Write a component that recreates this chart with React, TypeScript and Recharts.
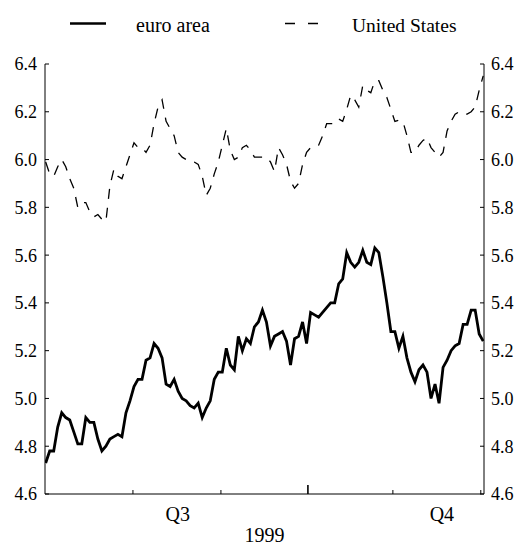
import { LineChart, Line, XAxis, YAxis, Label } from "recharts";

const FONT = "Liberation Serif, DejaVu Serif, serif";

// daily yields, July - early December 1999 (business days)
const euroArea = [
  4.73, 4.78, 4.78, 4.88, 4.94, 4.92, 4.91, 4.86, 4.81, 4.81,
  4.92, 4.9, 4.9, 4.83, 4.78, 4.8, 4.83, 4.84, 4.85, 4.84,
  4.94, 4.99, 5.05, 5.08, 5.08, 5.16, 5.17, 5.23,
  5.21, 5.17, 5.06, 5.05, 5.08, 5.03, 5.0, 4.99, 4.97, 4.96,
  4.98, 4.92, 4.96, 4.99, 5.08, 5.11, 5.11, 5.21, 5.14, 5.12,
  5.26, 5.2, 5.25, 5.23, 5.3, 5.32, 5.37,
  5.32, 5.22, 5.26, 5.27, 5.28, 5.24, 5.14, 5.25, 5.26, 5.32,
  5.23, 5.36, 5.35, 5.34, 5.36, 5.38, 5.4, 5.4, 5.48, 5.5,
  5.61, 5.57, 5.55, 5.57, 5.62, 5.57, 5.56,
  5.63, 5.61, 5.51, 5.4, 5.28, 5.28, 5.21, 5.26, 5.17, 5.11,
  5.07, 5.12, 5.14, 5.11, 5.0, 5.06, 4.98, 5.13, 5.16, 5.2,
  5.22, 5.23, 5.31, 5.31, 5.37, 5.37, 5.27, 5.24,
];

const unitedStates = [
  5.99, 5.94, 5.93, 5.97, 6.0, 5.97, 5.92, 5.88, 5.8, 5.82,
  5.82, 5.78, 5.76, 5.77, 5.75, 5.74, 5.89, 5.96, 5.93, 5.92,
  5.97, 6.02, 6.07, 6.05, 6.05, 6.03, 6.06, 6.15, 6.22, 6.25,
  6.16, 6.13, 6.1, 6.03, 6.01, 6.0, 6.0, 5.99, 5.98, 5.93,
  5.85, 5.88, 5.94, 5.99, 6.06, 6.13, 6.04, 6.0, 6.01, 6.05,
  6.06, 6.04, 6.01, 6.01, 6.01, 6.01, 5.99, 5.95, 6.05, 6.02,
  5.98, 5.91, 5.88, 5.9, 5.98, 6.03, 6.05, 6.06, 6.06, 6.1,
  6.15, 6.15, 6.15, 6.17, 6.16, 6.21, 6.27, 6.25, 6.22, 6.31,
  6.29, 6.28, 6.33, 6.33, 6.29, 6.26, 6.21, 6.16, 6.165, 6.16,
  6.1, 6.03, 6.03, 6.06, 6.08, 6.09, 6.05, 6.03, 6.01, 6.03,
  6.12, 6.16, 6.19, 6.2, 6.19, 6.19, 6.2, 6.22, 6.29, 6.35,
];

// x positions in business-day index
const monthTicks = [21.74, 43.66, 86.5, 108.4];
const quarterStarts = [65.33];
const quarterMids = [32.9, 98.7];
const quarterLabels = ["Q3", "Q4"];
const yTicks = [4.6, 4.8, 5.0, 5.2, 5.4, 5.6, 5.8, 6.0, 6.2, 6.4];
const yearLabel = "1999";

const data = euroArea.map((v, i) => ({ day: i, euro: v, us: unitedStates[i] }));

function XTick(props: any) {
  const { x, y, payload } = props;
  const q = quarterMids.indexOf(payload.value);
  if (q >= 0) {
    return (
      <text x={x} y={y + 27} textAnchor="middle" fontSize={20} style={{ fontFamily: FONT }} fill="#000">
        {quarterLabels[q]}
      </text>
    );
  }
  const big = quarterStarts.includes(payload.value);
  return <line x1={x} x2={x} y1={y} y2={y - (big ? 9 : 4)} stroke="#000" strokeWidth={big ? 1.6 : 1} />;
}

function LegendBar() {
  return (
    <svg width={507} height={40} style={{ position: "absolute", left: 0, top: 0, fontFamily: FONT }}>
      <line x1={62} x2={98} y1={15.5} y2={15.5} stroke="#000" strokeWidth={2.6} />
      <text x={128} y={23.5} fontSize={20} style={{ fontFamily: FONT }} fill="#000">euro area</text>
      <line x1={277} x2={312} y1={15.5} y2={15.5} stroke="#000" strokeWidth={1.3} strokeDasharray="10 13" />
      <text x={344} y={23.5} fontSize={19.5} style={{ fontFamily: FONT }} fill="#000">United States</text>
    </svg>
  );
}

export default function App() {
  const tickStyle = { fontSize: 18, style: { fontFamily: FONT }, fill: "#000" };
  return (
    <div style={{ position: "relative", width: 507, height: 537, fontFamily: FONT }}>
      <LineChart width={507} height={537} data={data} margin={{ top: 56, right: 0, bottom: 0, left: 0 }} style={{ fontFamily: FONT }}>
        <XAxis
          dataKey="day"
          type="number"
          domain={[-0.17, 109.2]}
          ticks={[...monthTicks, ...quarterStarts, ...quarterMids]}
          tick={<XTick />}
          tickLine={false}
          tickSize={0}
          tickMargin={0}
          interval={0}
          height={51}
          stroke="#000"
          allowDataOverflow
        >
          <Label value={yearLabel} position="insideBottom" offset={3} style={{ fontSize: 20, fontFamily: FONT, fill: "#000" }} />
        </XAxis>
        <YAxis
          yAxisId="l"
          orientation="left"
          width={37}
          domain={[4.6, 6.4]}
          ticks={yTicks}
          interval={0}
          tickSize={-4}
          tickMargin={12}
          tick={tickStyle}
          tickFormatter={(v: number) => v.toFixed(1)}
          stroke="#000"
        />
        <YAxis
          yAxisId="r"
          orientation="right"
          width={31}
          domain={[4.6, 6.4]}
          ticks={yTicks}
          interval={0}
          tickSize={-4}
          tickMargin={11}
          tick={tickStyle}
          tickFormatter={(v: number) => v.toFixed(1)}
          stroke="#000"
        />
        <Line yAxisId="l" dataKey="us" stroke="#000" strokeWidth={1.3} strokeDasharray="10 9" dot={false} activeDot={false} isAnimationActive={false} />
        <Line yAxisId="r" dataKey="euro" stroke="#000" strokeWidth={2.8} dot={false} activeDot={false} isAnimationActive={false} />
      </LineChart>
      <LegendBar />
    </div>
  );
}
